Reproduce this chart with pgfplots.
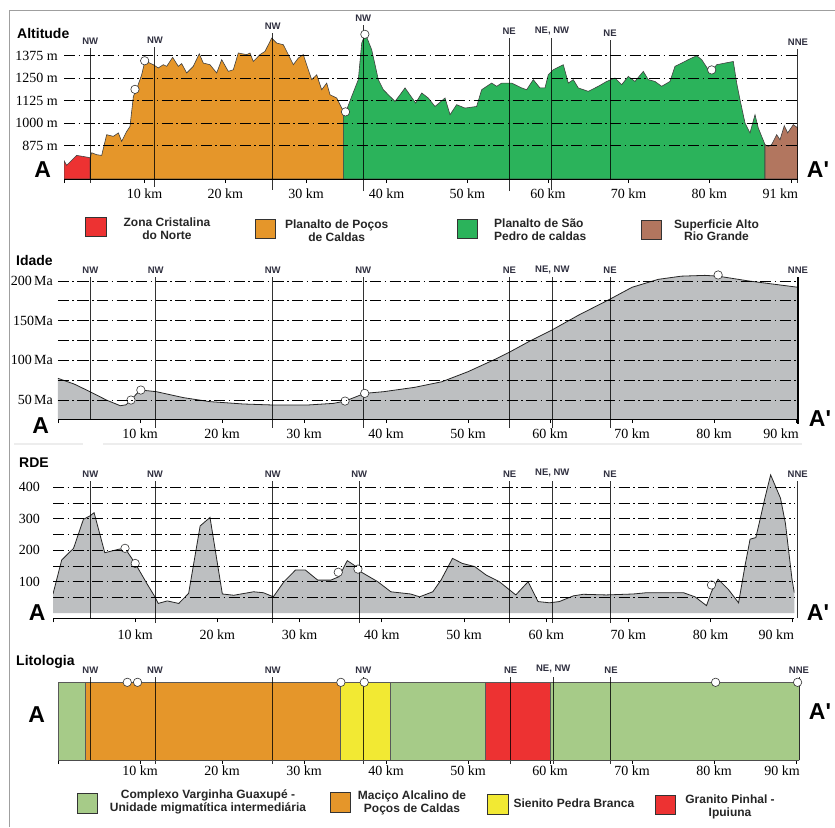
\documentclass[border=0pt]{standalone}
\usepackage{fontspec}
\setmainfont{Liberation Sans}
\newfontfamily\tnr{Liberation Serif}
\usepackage{pgfplots}
\usepackage{pgfplotstable}
\pgfplotsset{compat=1.18}

\definecolor{cRed}{HTML}{ED3232}
\definecolor{cOrange}{HTML}{E5962A}
\definecolor{cGreen}{HTML}{2BB35B}
\definecolor{cBrown}{HTML}{B2765F}
\definecolor{cGray}{HTML}{BDBFC1}
\definecolor{lGreen}{HTML}{A6CB88}
\definecolor{lYellow}{HTML}{F2E933}
\definecolor{dirc}{HTML}{303040}

% ---------- Altitude profile (km, m), split by geomorphological unit ----------
\pgfplotstableread{
x y
0 792
0.33 766
1.57 821
2.4 815
3.26 808
}\altA
\pgfplotstableread{
x y
3.26 808
3.43 836
4.05 825
4.67 821
5.29 936
6.12 927
6.74 946
7.15 899
7.77 954
8.18 982
8.6 1149
9.01 1190
9.63 1269
10.04 1347
11.07 1325
11.69 1307
12.31 1325
12.73 1316
13.47 1366
14.17 1316
14.59 1331
15.21 1279
16.03 1316
16.77 1386
17.27 1334
18.1 1325
18.93 1279
19.55 1353
20.37 1288
20.99 1297
21.61 1390
22.65 1381
23.06 1390
23.47 1343
24.3 1381
24.92 1399
25.75 1473
26.37 1445
27.19 1436
27.81 1381
28.43 1325
29.05 1362
29.67 1381
30.29 1297
30.71 1242
31.33 1269
31.95 1186
32.57 1223
32.98 1158
33.81 1140
34.63 1066
}\altB
\pgfplotstableread{
x y
34.63 1066
35.05 1075
35.67 1149
36.49 1242
36.91 1445
37.3 1490
37.6 1470
38.15 1408
38.97 1242
39.59 1186
40.21 1158
41.04 1121
41.66 1158
42.28 1196
43.0 1150
43.6 1112
44.35 1168
45.16 1140
46.0 1093
47.24 1140
47.86 1047
48.68 1103
49.71 1084
51.16 1093
51.78 1186
53.02 1223
53.64 1205
54.27 1223
55.5 1223
56.74 1196
57.36 1186
58.18 1242
59.01 1196
59.63 1196
60.04 1269
60.66 1297
61.9 1325
62.52 1223
63.14 1242
63.76 1196
65 1177
66.24 1205
67.28 1232
68.31 1251
69.14 1214
69.96 1260
70.79 1232
71.82 1288
72.44 1242
73.27 1232
74.1 1205
75.13 1232
75.75 1316
76.58 1334
77.4 1353
78.44 1375
79.06 1353
79.88 1297
80.3 1288
80.92 1325
81.95 1334
82.98 1343
83.4 1223
83.81 1131
84.43 1001
85.05 946
85.67 1047
86.08 973
86.91 881
}\altC
\pgfplotstableread{
x y
86.91 881
87.32 871
87.73 881
88.36 936
88.77 908
89.3 986
89.72 946
90.42 992
91 973
}\altD

% ---------- Idade (km, Ma) ----------
\pgfplotstableread{
x y
0 77.3
2.0 70
3.9 60.5
5.9 50
7.6 42.8
8.3 44
8.9 50
9.6 58
10.1 62.6
12.0 60.5
15.3 53
18.5 48
22.6 45
26.3 43.7
30.4 43.7
33.6 45.8
35.0 48.7
36.2 53.5
37.4 58.4
39.7 60.5
43.5 66
46.8 73
50 85.7
53.3 101.3
55 110
57.4 123.5
60.2 138
63.5 157
67.3 177
70 192
73.2 202
76 206
78.9 207
80.5 206
84.2 200
90.24 192
}\idade

% ---------- RDE (km, RDE) ----------
\pgfplotstableread{
x y
0 61
1.06 169
2.5 206
3.7 298
4.5 309
5.0 319
6.3 192
8.0 203
8.76 206
10.0 158
11.4 95
12.4 52
12.8 31
13.9 39
15.3 31
16.5 63
17.9 277
19.1 304
20.6 61
22 57
24.4 68
25.6 65
26.8 52
28.1 100
29.5 137
30.7 137
32.2 105
33.8 105
34.8 116
35.8 167
36.6 153
37.4 132
39.5 100
41.1 68
43.5 61
44.6 52
46.2 68
47.2 105
48.6 174
49.8 158
51.3 148
52.7 121
54.3 100
56.3 58
57.8 100
59 37
60.4 33
61.6 37
63.3 55
64.5 60
67.3 58
70.6 61
72.2 65
76.7 65
78.1 52
79.5 24
80.1 68
80.9 108
82.2 74
83.4 33
84.2 153
84.8 235
85.5 240
86 296
86.6 365
87.3 439
88.5 365
89.1 285
89.9 108
90.18 65
}\rde

\tikzset{
  dline/.style={black, opacity=0.8, line width=1pt},
  dirlab/.style={anchor=south, inner sep=0pt, yshift=3pt, opacity=1,
     font=\bfseries\fontsize{9.5}{10}\selectfont, text=dirc},
  ttl/.style={anchor=west, inner sep=0pt, font=\bfseries\fontsize{14}{16}\selectfont},
  bigA/.style={inner sep=0pt, font=\bfseries\fontsize{23}{25}\selectfont},
  leg/.style={inner sep=0pt, text=black!85, font=\bfseries\fontsize{12}{12.6}\selectfont},
  legb/.style={inner sep=0pt, text=black!85, font=\bfseries\fontsize{12}{13.5}\selectfont},
  sw/.style={draw=black!80, line width=0.7pt},
}

\pgfplotsset{
  panel/.style={
    scale only axis, clip mode=individual, axis on top,
    axis x line*=bottom, axis y line*=left,
    y axis line style={draw=none},
    x axis line style={black, line width=0.8pt},
    tick align=outside, major tick length=4pt, minor tick length=0pt,
    xtick style={black, line width=0.7pt},
    ytick style={draw=none},
    grid style={black, line width=0.6pt, dash pattern=on 11pt off 3.5pt on 1.5pt off 3.5pt},
    minor grid style={black, line width=0.6pt, dash pattern=on 11pt off 3.5pt on 1.5pt off 3.5pt},
    tick label style={font={\tnr\fontsize{14}{16}\selectfont}, text=black},
    xticklabel style={inner sep=2pt},
    yticklabel style={inner sep=2pt},
  },
  circ/.style={only marks, mark=*, mark size=4.2pt,
    mark options={fill=white, draw=black!80, line width=0.6pt}},
}

\begin{document}
\begin{tikzpicture}
\useasboundingbox (0pt,0pt) rectangle (835pt,-827pt);
\fill[white] (0pt,0pt) rectangle (835pt,-827pt);
\draw[gray!75, line width=1pt] (9pt,-827pt) -- (9pt,-10pt) -- (835pt,-10pt);
\draw[gray!14, line width=2.5pt] (14pt,-444pt) -- (83pt,-444pt);
\draw[gray!14, line width=2.5pt] (103pt,-444pt) -- (802pt,-444pt);

% ================= ALTITUDE =================
\begin{axis}[panel, at={(64pt,-179pt)}, anchor=south west,
  width=734pt, height=149.4pt,
  xmin=0, xmax=91, ymin=690, ymax=1520,
  xtick={0,10,20,30,40,50,60,70,80,90.2},
  xticklabels={,10 km,20 km,30 km,40 km,50 km,60 km,70 km,80 km,{\makebox[0pt]{\hspace*{-22.4pt}91 km}}},
  xticklabel style={yshift=-3.5pt},
  ytick={875,1000,1125,1250,1375},
  yticklabels={875 m,1000 m,1125 m,1250 m,1375 m},
  ymajorgrids]
\addplot[fill=cRed, draw=black!75, line width=0.6pt] table {\altA} \closedcycle;
\addplot[fill=cOrange, draw=black!75, line width=0.6pt] table {\altB} \closedcycle;
\addplot[fill=cGreen, draw=black!75, line width=0.6pt] table {\altC} \closedcycle;
\addplot[fill=cBrown, draw=black!75, line width=0.6pt] table {\altD} \closedcycle;
\draw[dline] (axis cs:3.26,668) -- (axis cs:3.26,1418) node[dirlab]{NW};
\draw[dline] (axis cs:11.28,646) -- (axis cs:11.28,1423) node[dirlab]{NW};
\draw[dline] (axis cs:25.87,629) -- (axis cs:25.87,1501) node[dirlab]{NW};
\draw[dline] (axis cs:37.1,623) -- (axis cs:37.1,1545) node[dirlab]{NW};
\draw[dline] (axis cs:55.2,623) -- (axis cs:55.2,1473) node[dirlab]{NE};
\draw[dline] (axis cs:60.5,629) -- (axis cs:60.5,1473) node[dirlab]{NE, NW};
\draw[dline] (axis cs:67.7,684) -- (axis cs:67.7,1462) node[dirlab]{NE};
\draw[dline] (axis cs:91.0,668) -- (axis cs:91.0,1412) node[dirlab]{NNE};
\addplot[circ] coordinates {(8.8,1188) (10.0,1347) (34.9,1063) (37.3,1494) (80.3,1296)};
\end{axis}

% ================= IDADE =================
\begin{axis}[panel, at={(58pt,-419pt)}, anchor=south west,
  width=740pt, height=147.6pt,
  xmin=0, xmax=90.24, ymin=26.1, ymax=212,
  xtick={0,10,20,30,40,50,60,70,80,90},
  xticklabels={,10 km,20 km,30 km,40 km,50 km,60 km,70 km,80 km,{\makebox[0pt]{\hspace*{-30pt}90 km}}},
  xticklabel style={yshift=-3.5pt},
  ytick={50,100,150,200},
  yticklabels={50\,Ma,100\,Ma,150Ma,200\,Ma},
  ytick style={black, line width=0.7pt},
  yticklabel style={inner sep=1pt},
  minor ytick={75,125,175},
  ymajorgrids, yminorgrids]
\addplot[fill=cGray, draw=none] table {\idade} \closedcycle;
\addplot[black!85, line width=0.8pt] table {\idade};
\draw[dline] (axis cs:3.94,26.1) -- (axis cs:3.94,204.9) node[dirlab]{NW};
\draw[dline] (axis cs:11.91,14.8) -- (axis cs:11.91,204.9) node[dirlab]{NW};
\draw[dline] (axis cs:26.18,14.8) -- (axis cs:26.18,204.9) node[dirlab]{NW};
\draw[dline] (axis cs:37.23,14.8) -- (axis cs:37.23,204.9) node[dirlab]{NW};
\draw[dline] (axis cs:55.04,14.8) -- (axis cs:55.04,204.9) node[dirlab]{NE};
\draw[dline] (axis cs:60.28,14.8) -- (axis cs:60.28,204.9) node[dirlab]{NE, NW};
\draw[dline] (axis cs:67.32,14.8) -- (axis cs:67.32,204.9) node[dirlab]{NE};
\draw[black, line width=1.6pt] (axis cs:90.24,20) -- (axis cs:90.24,204.9) node[dirlab]{NNE};
\addplot[circ] coordinates {(8.9,50) (10.1,62.6) (35.0,48.7) (37.4,58.4) (80.5,207.5)};
\end{axis}

% ================= RDE =================
\begin{axis}[panel, at={(53pt,-618.3pt)}, anchor=south west,
  width=741.3pt, height=145.3pt,
  xmin=0, xmax=90.18, ymin=-16.2, ymax=445,
  xtick={0,10,20,30,40,50,60,70,80,90},
  xticklabels={,10 km,20 km,30 km,40 km,50 km,60 km,70 km,80 km,{\makebox[0pt]{\hspace*{-32.8pt}90 km}}},
  xticklabel style={yshift=-5pt},
  ytick={100,200,300,400},
  yticklabels={100,200,300,400},
  yticklabel style={xshift=-7pt},
  minor ytick={50,150,250,350},
  ymajorgrids, yminorgrids]
\addplot[fill=cGray, draw=none] table {\rde} \closedcycle;
\addplot[black!85, line width=0.8pt] table {\rde};
\draw[dline] (axis cs:4.54,-15.2) -- (axis cs:4.54,420.6) node[dirlab]{NW};
\draw[dline] (axis cs:12.41,-31.1) -- (axis cs:12.41,420.6) node[dirlab]{NW};
\draw[dline] (axis cs:26.73,-31.1) -- (axis cs:26.73,420.6) node[dirlab]{NW};
\draw[dline] (axis cs:37.26,-31.1) -- (axis cs:37.26,420.6) node[dirlab]{NW};
\draw[dline] (axis cs:55.55,-31.1) -- (axis cs:55.55,420.6) node[dirlab]{NE};
\draw[dline] (axis cs:60.74,-31.1) -- (axis cs:60.74,420.6) node[dirlab]{NE, NW};
\draw[dline] (axis cs:67.76,-31.1) -- (axis cs:67.76,420.6) node[dirlab]{NE};
\draw[dline] (axis cs:90.6,-16.2) -- (axis cs:90.6,420.6) node[dirlab]{NNE};
\addplot[circ] coordinates {(8.76,206) (10.0,158) (34.7,130) (37.1,140) (80.1,89.5)};
\end{axis}

% ================= LITOLOGIA =================
\begin{axis}[panel, at={(58pt,-760pt)}, anchor=south west,
  width=741pt, height=77.7pt,
  xmin=0, xmax=90.37, ymin=-0.5, ymax=0.5,
  xbar stacked, bar width=77.7pt, reverse stacked plots=false,
  x axis line style={black!70, line width=0.8pt},
  xtick={0,10,20,30,40,50,60,70,80,90},
  xticklabels={,10 km,20 km,30 km,40 km,50 km,60 km,70 km,80 km,{\makebox[0pt]{\hspace*{-28pt}90 km}}},
  ytick=\empty]
\addplot[fill=lGreen, draw=black!65, line width=0.7pt] coordinates {(3.38,0)};
\addplot[fill=cOrange, draw=black!65, line width=0.7pt] coordinates {(31.09,0)};
\addplot[fill=lYellow, draw=black!65, line width=0.7pt] coordinates {(6.10,0)};
\addplot[fill=lGreen, draw=black!65, line width=0.7pt] coordinates {(11.59,0)};
\addplot[fill=cRed, draw=black!65, line width=0.7pt] coordinates {(7.93,0)};
\addplot[fill=lGreen, draw=black!65, line width=0.7pt] coordinates {(30.28,0)};
\draw[dline] (axis cs:3.94,-0.5) -- (axis cs:3.94,0.572) node[dirlab]{NW};
\draw[dline] (axis cs:11.83,-0.55) -- (axis cs:11.83,0.572) node[dirlab]{NW};
\draw[dline] (axis cs:26.18,-0.55) -- (axis cs:26.18,0.572) node[dirlab]{NW};
\draw[dline] (axis cs:37.24,-0.55) -- (axis cs:37.24,0.572) node[dirlab]{NW};
\draw[dline] (axis cs:55.2,-0.55) -- (axis cs:55.2,0.572) node[dirlab]{NE};
\draw[dline] (axis cs:60.4,-0.55) -- (axis cs:60.4,0.572) node[dirlab]{NE, NW};
\draw[dline] (axis cs:67.44,-0.55) -- (axis cs:67.44,0.572) node[dirlab]{NE};
\draw[dline] (axis cs:90.37,-0.5) -- (axis cs:90.37,0.572) node[dirlab]{NNE};
\addplot[circ, stack plots=false] coordinates {(8.45,0.5) (9.7,0.5) (34.5,0.5) (37.35,0.5) (80.2,0.5) (90.2,0.5)};
\end{axis}

% ---------- titles and A / A' ----------
\node[ttl] at (17pt,-33pt) {Altitude};
\node[ttl] at (16pt,-260pt) {Idade};
\node[ttl] at (19pt,-463pt) {RDE};
\node[ttl] at (16pt,-662pt) {Litologia};
\node[bigA] at (42.7pt,-170pt) {A};
\node[bigA] at (818pt,-170pt) {A\textquotesingle};
\node[bigA] at (40.7pt,-426pt) {A};
\node[bigA] at (820pt,-419pt) {A\textquotesingle};
\node[bigA] at (37.3pt,-613pt) {A};
\node[bigA] at (818pt,-613pt) {A\textquotesingle};
\node[bigA] at (36.7pt,-715pt) {A};
\node[bigA] at (820pt,-712pt) {A\textquotesingle};

% ---------- legend: units of relief ----------
\draw[sw, fill=cRed] (85.5pt,-217.5pt) rectangle (106pt,-236.5pt);
\node[leg, align=center] at (167pt,-229pt) {Zona Cristalina\\do Norte};
\draw[sw, fill=cOrange] (255pt,-219.3pt) rectangle (275pt,-238.3pt);
\node[leg, align=center] at (336.7pt,-231pt) {Planalto de Poços\\de Caldas};
\draw[sw, fill=cGreen] (457.7pt,-219pt) rectangle (477.7pt,-238.3pt);
\node[leg, align=left, anchor=west] at (494pt,-230pt) {Planalto de São\\Pedro de caldas};
\draw[sw, fill=cBrown] (641pt,-220pt) rectangle (661.7pt,-239.3pt);
\node[leg, align=center] at (716.5pt,-230.3pt) {Superficie Alto\\Rio Grande};

% ---------- legend: lithology ----------
\draw[sw, fill=lGreen] (77.3pt,-793pt) rectangle (97.3pt,-813pt);
\node[legb, align=center] at (208pt,-802pt) {Complexo Varginha Guaxupé -\\Unidade migmatítica intermediária};
\draw[sw, fill=cOrange] (330pt,-792.7pt) rectangle (350.7pt,-812.7pt);
\node[legb, align=center] at (412pt,-803pt) {Maciço Alcalino de\\Poços de Caldas};
\draw[sw, fill=lYellow] (487.3pt,-794pt) rectangle (508.3pt,-814pt);
\node[legb, anchor=west] at (513.3pt,-803.3pt) {Sienito Pedra Branca};
\draw[sw, fill=cRed] (655pt,-795pt) rectangle (675pt,-814.3pt);
\node[legb, align=center] at (730pt,-806.7pt) {Granito Pinhal -\\Ipuiuna};
\end{tikzpicture}
\end{document}
